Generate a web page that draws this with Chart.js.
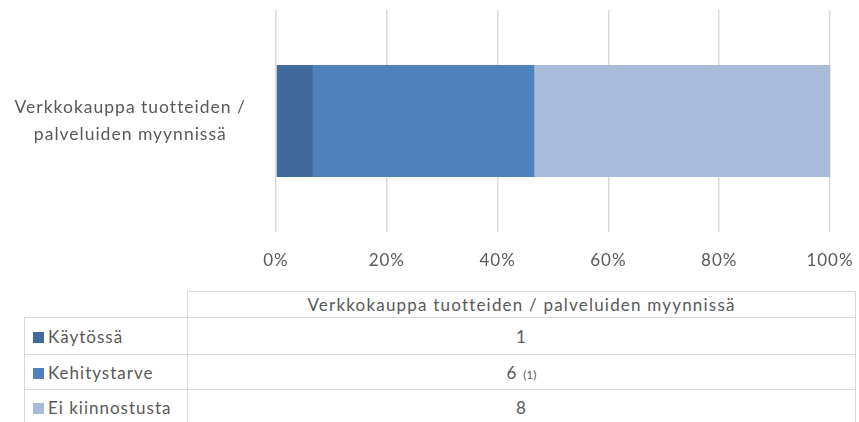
<!DOCTYPE html>
<html>
<head>
<meta charset="utf-8">
<script src="https://cdn.jsdelivr.net/npm/chart.js@4"></script>
<style>
  body { margin: 0; background: #fff; font-family: Lato, "Noto Sans", sans-serif; color: #595959; }
  #wrap { position: relative; width: 859px; height: 422px; overflow: hidden; }
  #chartBox { position: absolute; left: 0; top: 0; width: 859px; height: 285px; }
  table { position: absolute; left: 24px; top: 291px; border-collapse: collapse; table-layout: fixed;
          font-size: 17px; letter-spacing: 1.2px; }
  td { border: 1.5px solid #d9d9d9; padding: 0; overflow: visible; }
  td.name { width: 154px; padding-left: 8px; text-align: left; white-space: nowrap; letter-spacing: 1px; }
  td.val { width: 667px; text-align: center; }
  td.blank { border: none; }
  .sw { display: inline-block; width: 11px; height: 11px; margin-right: 4px; vertical-align: 0px; }
  .note { font-size: 12px; letter-spacing: 0; }
</style>
</head>
<body>
<div id="wrap">
  <div id="chartBox"><canvas id="grafico"></canvas></div>
  <table id="dataTable"></table>
</div>
<script>
const categories = ['Verkkokauppa tuotteiden / palveluiden myynnissä'];
const categoryLines = [['Verkkokauppa tuotteiden /', 'palveluiden myynnissä']];
const seriesNames = ['Käytössä', 'Kehitystarve', 'Ei kiinnostusta'];
const seriesCounts = [[1], [6], [8]];
const seriesNotes = ['', '(1)', ''];
const seriesColors = ['#416a9c', '#4f81bd', '#a9bbd9'];
const tickLabels = ['0%', '20%', '40%', '60%', '80%', '100%'];

// 100% stacked: share of each series in the category total
const totals = categories.map((c, i) => seriesCounts.reduce((acc, s) => acc + s[i], 0));

// wider text like the original rendering
const spacing = {
  id: 'spacing',
  beforeUpdate: (chart) => { chart.ctx.letterSpacing = '1px'; },
  beforeLayout: (chart) => { chart.ctx.letterSpacing = '1px'; },
  beforeDraw: (chart) => { chart.ctx.letterSpacing = '1px'; }
};

const ctx = document.getElementById('grafico').getContext('2d');
const chart = new Chart(ctx, {
  type: 'bar',
  plugins: [spacing],
  data: {
    labels: categoryLines,
    datasets: seriesNames.map((name, k) => ({
      label: name,
      data: seriesCounts[k].map((v, i) => v / totals[i] * 100),
      backgroundColor: seriesColors[k],
      borderWidth: 0,
      barPercentage: 0.505,
      categoryPercentage: 1
    }))
  },
  options: {
    indexAxis: 'y',
    responsive: true,
    maintainAspectRatio: false,
    animation: false,
    layout: { padding: { top: 10, right: 29, left: 0, bottom: 0 } },
    plugins: { legend: { display: false }, tooltip: { enabled: false } },
    scales: {
      x: {
        stacked: true,
        min: 0,
        max: 100,
        afterBuildTicks: (s) => { s.ticks = tickLabels.map((t, i) => ({ value: i * 20 })); },
        afterFit: (s) => { s.height = 53; s.paddingLeft = 0; s.paddingRight = 0; },
        grid: { color: '#d9d9d9', lineWidth: 1.5, drawTicks: false },
        border: { display: false },
        ticks: {
          padding: 18,
          color: '#595959',
          font: { family: 'Lato', size: 17 },
          callback: (v, i) => tickLabels[i]
        }
      },
      y: {
        stacked: true,
        afterFit: (s) => { s.width = 276; s.paddingTop = 0; s.paddingBottom = 0; },
        grid: { display: false, drawTicks: false },
        border: { display: false },
        ticks: {
          padding: 30,
          crossAlign: 'center',
          color: '#595959',
          font: { family: 'Lato', size: 17.5, lineHeight: 1.55 }
        }
      }
    }
  }
});

// data table under the chart
const table = document.getElementById('dataTable');
let html = '<tr style="height:26px"><td class="blank" style="width:162px"></td><td class="val">' + categories[0] + '</td></tr>';
const rowHeights = [37, 35, 35];
seriesNames.forEach((name, k) => {
  const note = seriesNotes[k] ? ' <span class="note">' + seriesNotes[k] + '</span>' : '';
  html += '<tr style="height:' + rowHeights[k] + 'px"><td class="name"><span class="sw" style="background:' +
    seriesColors[k] + '"></span>' + name + '</td><td class="val">' + seriesCounts[k][0] + note + '</td></tr>';
});
table.innerHTML = html;
</script>
</body>
</html>
